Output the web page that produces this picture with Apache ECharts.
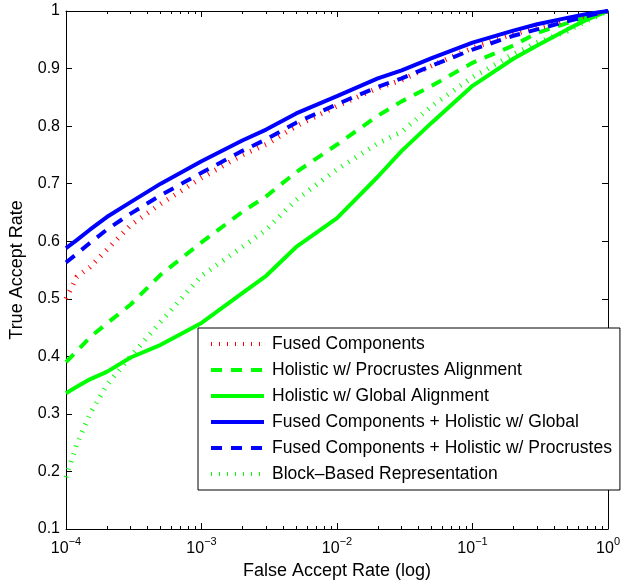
<!DOCTYPE html>
<html>
<head>
<meta charset="utf-8">
<script src="https://cdn.jsdelivr.net/npm/echarts@6/dist/echarts.min.js"></script>
<style>
  html, body { margin: 0; padding: 0; background: #fff; }
  #chart { width: 623px; height: 585px; }
</style>
</head>
<body>
<div id="chart"></div>
<script>
// False accept rates (x) shared by every curve
const far = [1e-4, 1.2e-4, 1.5e-4, 2e-4, 3e-4, 5e-4, 1e-3, 2e-3, 3e-3, 5e-3, 1e-2,
             2e-2, 3e-2, 5e-2, 0.1, 0.2, 0.3, 0.5, 0.7, 1];

// True accept rates
const fusedComponents     = [0.500, 0.538, 0.555, 0.585, 0.628, 0.665, 0.710, 0.750, 0.768, 0.800, 0.835, 0.866, 0.880, 0.905, 0.936, 0.960, 0.970, 0.984, 0.992, 1.0];
const holisticProcrustes  = [0.390, 0.409, 0.433, 0.457, 0.490, 0.542, 0.598, 0.651, 0.678, 0.720, 0.768, 0.818, 0.843, 0.870, 0.910, 0.940, 0.962, 0.979, 0.990, 1.0];
const holisticGlobal      = [0.336, 0.347, 0.360, 0.373, 0.398, 0.420, 0.458, 0.510, 0.540, 0.590, 0.640, 0.712, 0.757, 0.806, 0.870, 0.917, 0.940, 0.968, 0.985, 1.0];
const fusedPlusGlobal     = [0.588, 0.602, 0.620, 0.642, 0.668, 0.700, 0.739, 0.775, 0.794, 0.822, 0.852, 0.883, 0.897, 0.918, 0.945, 0.966, 0.977, 0.988, 0.995, 1.0];
const fusedPlusProcrustes = [0.563, 0.578, 0.597, 0.620, 0.648, 0.680, 0.719, 0.757, 0.777, 0.806, 0.838, 0.868, 0.883, 0.905, 0.933, 0.957, 0.968, 0.982, 0.991, 1.0];
const blockBased          = [0.190, 0.247, 0.300, 0.350, 0.400, 0.460, 0.540, 0.590, 0.620, 0.672, 0.725, 0.770, 0.790, 0.835, 0.885, 0.925, 0.945, 0.965, 0.983, 1.0];

// Axis ticks
const xExponents = ['−4', '−3', '−2', '−1', '0'];
const xMinorTicks = [];
[1e-4, 1e-3, 1e-2, 1e-1].forEach(d => {
  [2, 3, 4, 5, 6, 7, 8, 9].forEach(m => xMinorTicks.push(m * d));
});
const yTicks = ['0.1', '0.2', '0.3', '0.4', '0.5', '0.6', '0.7', '0.8', '0.9', '1'];

const FONT = 'Liberation Sans, Arial, Helvetica, sans-serif';

function pairs(ys) {
  return far.map((x, i) => [x, ys[i]]);
}

function mk(name, data, color, type, width) {
  return {
    name: name,
    type: 'line',
    data: pairs(data),
    symbol: 'none',
    xAxisIndex: 0,
    yAxisIndex: 0,
    lineStyle: { color: color, width: width, type: type, cap: 'butt' },
    itemStyle: { color: color },
    emphasis: { disabled: true }
  };
}

const chart = echarts.init(document.getElementById('chart'));

const baseX = {
  type: 'log',
  logBase: 10,
  min: 1e-4,
  max: 1,
  gridIndex: 0,
  splitLine: { show: false },
  axisLine: { show: true, onZero: false, lineStyle: { color: '#000', width: 1 } },
  axisTick: { show: true, inside: true, length: 6, lineStyle: { color: '#000' } },
  axisLabel: { show: false }
};

const option = {
  animation: false,
  backgroundColor: '#fff',
  textStyle: { fontFamily: FONT },
  grid: { left: 63, right: 12, top: 11, bottom: 56, containLabel: false },
  xAxis: [
    Object.assign({}, baseX, {
      position: 'bottom',
      name: 'False Accept Rate (log)',
      nameLocation: 'middle',
      nameGap: 33,
      nameTextStyle: { color: '#000', fontSize: 18, fontFamily: FONT },
      axisLabel: {
        show: true,
        margin: 7,
        formatter: function (v) {
          const e = Math.round(Math.log10(v));
          return '{b|10}{s|' + xExponents[e + 4] + '}';
        },
        rich: {
          b: { fontSize: 16, color: '#000', fontFamily: FONT, verticalAlign: 'bottom', padding: [5, 0, 0, 0] },
          s: { fontSize: 11, color: '#000', fontFamily: FONT, verticalAlign: 'top' }
        }
      }
    }),
    Object.assign({}, baseX, {
      position: 'bottom',
      axisLine: { show: false },
      axisTick: { show: true, inside: true, length: 3, customValues: xMinorTicks, lineStyle: { color: '#000' } }
    }),
    Object.assign({}, baseX, { position: 'top' }),
    Object.assign({}, baseX, {
      position: 'top',
      axisLine: { show: false },
      axisTick: { show: true, inside: true, length: 3, customValues: xMinorTicks, lineStyle: { color: '#000' } }
    })
  ],
  yAxis: [
    {
      type: 'value',
      min: 0.1,
      max: 1,
      interval: 0.1,
      position: 'left',
      name: 'True Accept Rate',
      nameLocation: 'middle',
      nameGap: 40,
      nameTextStyle: { color: '#000', fontSize: 18, fontFamily: FONT },
      splitLine: { show: false },
      axisLine: { show: true, onZero: false, lineStyle: { color: '#000' } },
      axisTick: { show: true, inside: true, length: 6, lineStyle: { color: '#000' } },
      axisLabel: {
        color: '#000', fontSize: 16, margin: 6, fontFamily: FONT,
        formatter: function (v) { return yTicks[Math.round(v * 10) - 1]; }
      }
    },
    {
      type: 'value',
      min: 0.1,
      max: 1,
      interval: 0.1,
      position: 'right',
      splitLine: { show: false },
      axisLine: { show: true, onZero: false, lineStyle: { color: '#000' } },
      axisTick: { show: true, inside: true, length: 6, lineStyle: { color: '#000' } },
      axisLabel: { show: false }
    }
  ],
  legend: {
    orient: 'vertical',
    left: 198,
    top: 328,
    padding: [7, 8, 7, 11],
    itemWidth: 53,
    itemHeight: 17,
    itemGap: 8,
    backgroundColor: '#fff',
    borderColor: '#000',
    borderWidth: 1,
    borderRadius: 0,
    selectedMode: false,
    itemStyle: { opacity: 0 },
    lineStyle: { width: 4 },
    textStyle: { color: '#000', fontSize: 17.5, fontFamily: FONT, padding: [0, 0, 0, 3] },
    data: [
      'Fused Components',
      'Holistic w/ Procrustes Alignment',
      'Holistic w/ Global Alignment',
      'Fused Components + Holistic w/ Global',
      'Fused Components + Holistic w/ Procrustes',
      'Block\u2013Based Representation'
    ]
  },
  series: [
    mk('Holistic w/ Global Alignment', holisticGlobal, '#00ff00', 'solid', 4),
    mk('Block\u2013Based Representation', blockBased, '#00ff00', [1, 7], 5),
    mk('Holistic w/ Procrustes Alignment', holisticProcrustes, '#00ff00', [11, 9], 4),
    mk('Fused Components', fusedComponents, '#ff0000', [1, 7], 5),
    mk('Fused Components + Holistic w/ Procrustes', fusedPlusProcrustes, '#0000ff', [11, 9], 4),
    mk('Fused Components + Holistic w/ Global', fusedPlusGlobal, '#0000ff', 'solid', 4)
  ]
};

chart.setOption(option);
window.addEventListener('resize', () => chart.resize());
</script>
</body>
</html>
